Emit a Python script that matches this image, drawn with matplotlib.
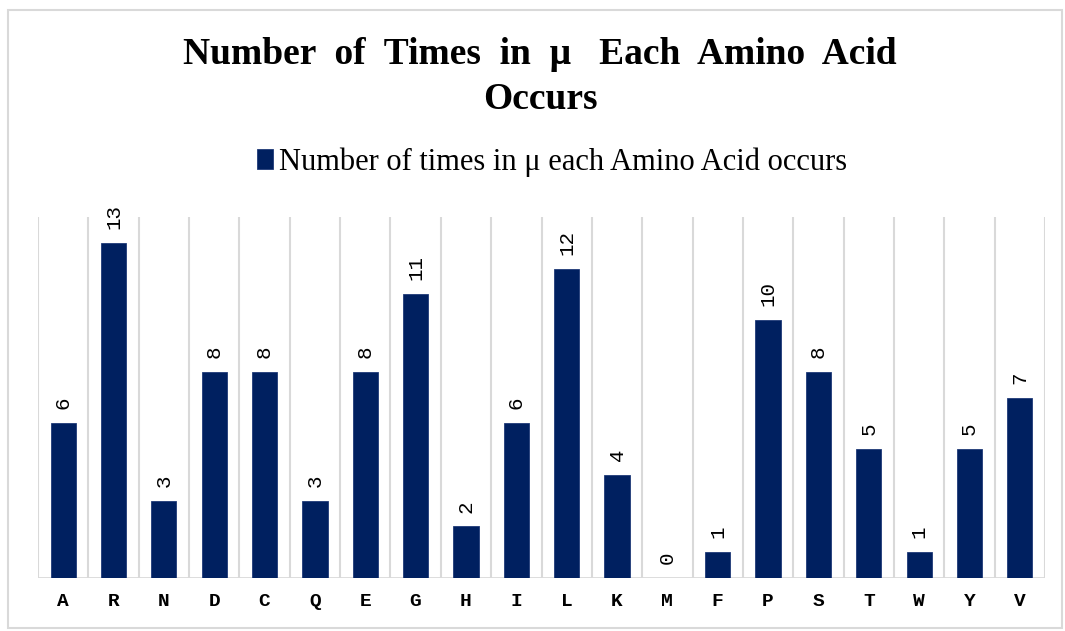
import matplotlib
matplotlib.use('Agg')
import matplotlib.pyplot as plt
from matplotlib.patches import Rectangle

# data
amino_acids = ['A', 'R', 'N', 'D', 'C', 'Q', 'E', 'G', 'H', 'I',
               'L', 'K', 'M', 'F', 'P', 'S', 'T', 'W', 'Y', 'V']
counts = [6, 13, 3, 8, 8, 3, 8, 11, 2, 6, 12, 4, 0, 1, 10, 8, 5, 1, 5, 7]
series_name = 'Number of times in \u03bc each Amino Acid occurs'
title = 'Number  of  Times  in  \u03bc   Each  Amino  Acid\nOccurs'

bar_color = '#002060'
grid_color = '#d9d9d9'

fig = plt.figure(figsize=(10.65, 6.31), dpi=100)
# outer chart border
fig.patches.append(Rectangle((8 / 1065, 3 / 631), 1054 / 1065, 618 / 631,
                             transform=fig.transFigure, fill=False,
                             edgecolor=grid_color, linewidth=1.5))

ax = fig.add_axes([38 / 1065, 1 - 578 / 631, 1007 / 1065, 361 / 631])
x = list(range(len(amino_acids)))
bars = ax.bar(x, counts, width=0.5, color=bar_color, edgecolor='#1f3a78',
              linewidth=0.6, label=series_name, zorder=3)
ax.set_xlim(-0.5, len(amino_acids) - 0.5)
ax.set_ylim(0, 14)

# vertical gridlines between categories
for b in range(len(amino_acids) + 1):
    ax.axvline(b - 0.5, color=grid_color, linewidth=1.5, zorder=1)
ax.axhline(0, color=grid_color, linewidth=2, zorder=2)

for s in ax.spines.values():
    s.set_visible(False)
ax.set_yticks([])
ax.set_xticks(x)
ax.set_xticklabels(amino_acids, fontfamily='Liberation Mono', fontweight='bold',
                   fontsize=14)
ax.tick_params(axis='x', length=0, pad=11)

for xi, v in zip(x, counts):
    ax.annotate(str(v), (xi, v), xytext=(0, 10), textcoords='offset points',
                rotation=90, ha='center', va='bottom',
                fontfamily='Liberation Mono', fontsize=15)

fig.text(540 / 1065, 1 - 77 / 631, title, ha='center', va='center',
         fontfamily='Liberation Serif', fontweight='bold', fontsize=27,
         linespacing=1.35)

leg = fig.legend(handles=[bars], labels=[series_name], loc='center',
                 bbox_to_anchor=(552 / 1065, 1 - 162 / 631), frameon=False,
                 prop={'family': 'Liberation Serif', 'size': 22},
                 handlelength=0.5, handleheight=0.6, handletextpad=0.2)

fig.savefig('out.png', dpi=100, facecolor='white')
